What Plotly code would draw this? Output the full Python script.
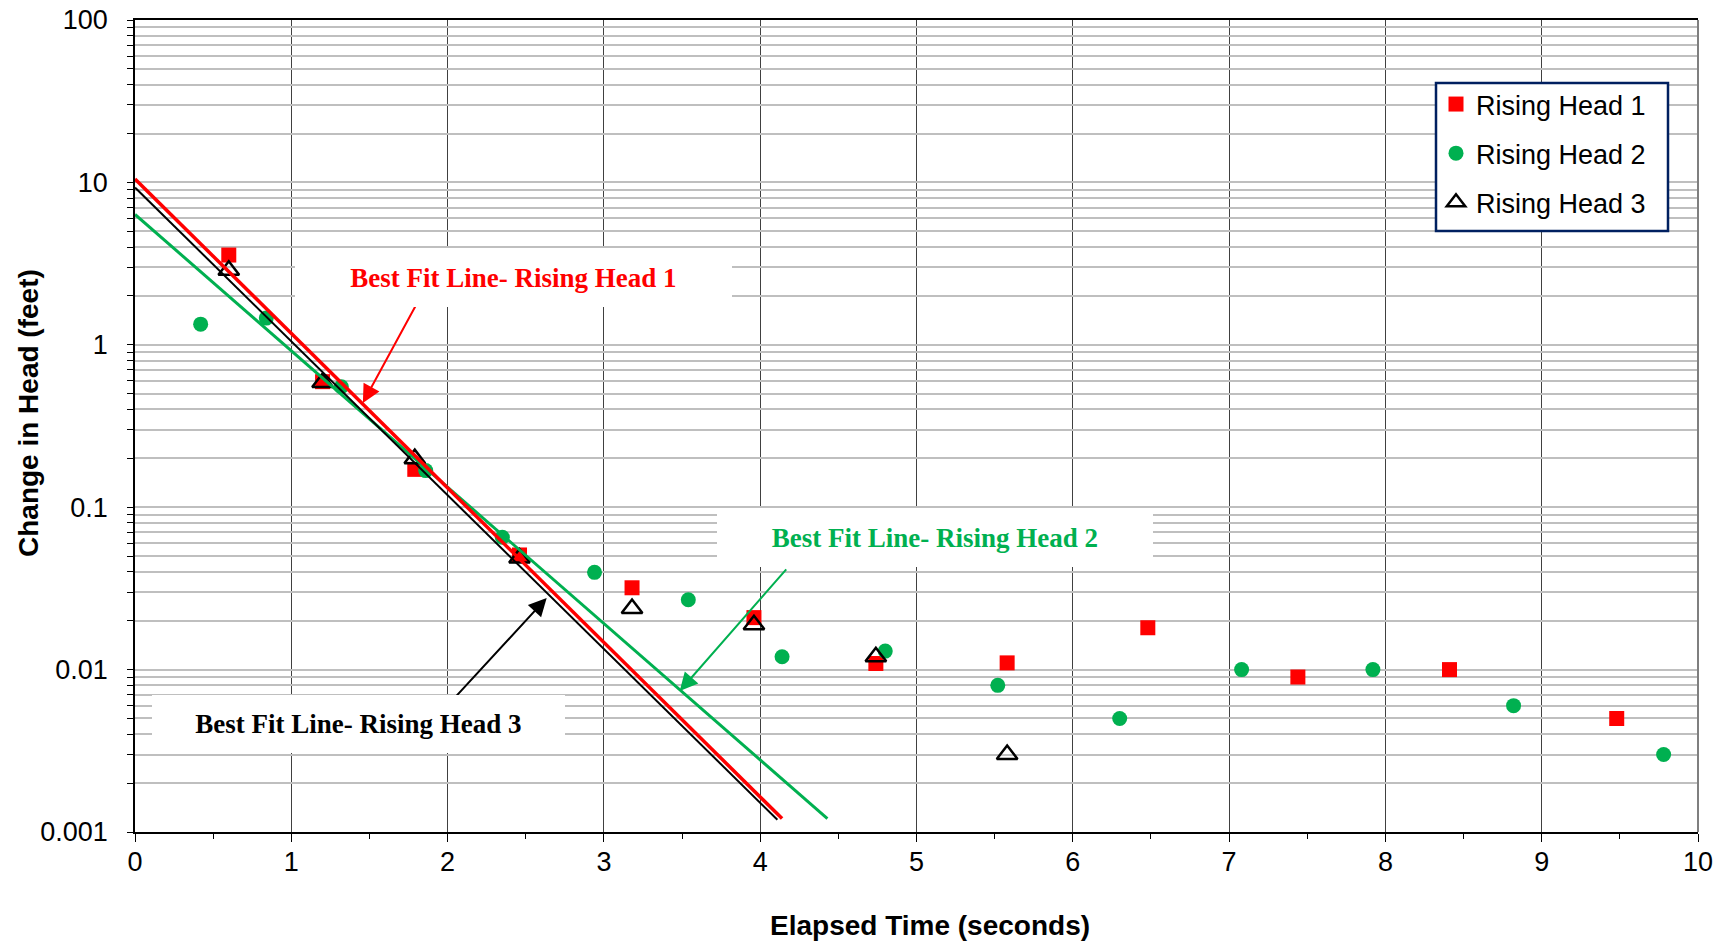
import plotly.graph_objects as go

# ---------------- data ----------------
rh1_t = [0.60, 1.20, 1.79, 2.46, 3.18, 3.96, 4.74, 5.58, 6.48, 7.44, 8.41, 9.48]
rh1_h = [3.57, 0.593, 0.171, 0.0508, 0.0319, 0.0209, 0.0109, 0.0110, 0.0181, 0.0090, 0.0100, 0.0050]

rh2_t = [0.42, 0.84, 1.32, 1.86, 2.35, 2.94, 3.54, 4.14, 4.80, 5.52, 6.30, 7.08, 7.92, 8.82, 9.78]
rh2_h = [1.34, 1.46, 0.552, 0.168, 0.0653, 0.0397, 0.0269, 0.0120, 0.0130, 0.0080, 0.0050, 0.0100, 0.0100, 0.0060, 0.0030]

rh3_t = [0.60, 1.20, 1.79, 2.46, 3.18, 3.96, 4.74, 5.58]
rh3_h = [2.88, 0.585, 0.199, 0.0486, 0.0238, 0.0189, 0.0120, 0.0030]

fit1_t = [0.0, 4.14]
fit1_h = [10.5, 0.00121]
fit2_t = [0.0, 4.43]
fit2_h = [6.35, 0.00121]
fit3_t = [0.0, 4.11]
fit3_h = [9.3, 0.00119]

series_names = ["Rising Head 1", "Rising Head 2", "Rising Head 3"]
fit_labels = ["Best Fit Line- Rising Head 1", "Best Fit Line- Rising Head 2", "Best Fit Line- Rising Head 3"]

y_decades = [0.001, 0.01, 0.1, 1, 10, 100]
y_decade_labels = ["0.001", "0.01", "0.1", "1", "10", "100"]
x_ticks = list(range(0, 11))

# ---------------- styling ----------------
RED = "#FF0000"
GREEN = "#00B050"
BLACK = "#000000"
NAVY = "#002060"
SANS = "Liberation Sans, Arial, sans-serif"
SERIF = "Liberation Serif, Times New Roman, serif"

W, H = 1735, 945
ML, MR, MT, MB = 135, 37, 20, 113
PW, PH = W - ML - MR, H - MT - MB


def px2paper(px, py):
    return (px - ML) / PW, 1 - (py - MT) / PH


# y gridlines at every 1..9 multiple of each decade
y_tickvals, y_ticktext = [], []
for d, lab in zip(y_decades, y_decade_labels):
    if d == y_decades[-1]:
        y_tickvals.append(d)
        y_ticktext.append(lab)
        break
    for m in range(1, 10):
        y_tickvals.append(d * m)
        y_ticktext.append(lab if m == 1 else "")

fig = go.Figure()

fig.add_trace(go.Scatter(
    x=rh1_t, y=rh1_h, mode="markers", name=series_names[0], legendgroup="a",
    marker=dict(symbol="square", size=15, color=RED, line=dict(width=0)),
))
fig.add_trace(go.Scatter(
    x=rh2_t, y=rh2_h, mode="markers", name=series_names[1], legendgroup="b",
    marker=dict(symbol="circle", size=15, color=GREEN, line=dict(width=0)),
))
fig.add_trace(go.Scatter(
    x=rh3_t, y=rh3_h, mode="markers", name=series_names[2], legendgroup="c",
    marker=dict(symbol="triangle-up-open", size=18, color=BLACK, line=dict(width=2.5, color=BLACK)),
))

# best-fit lines (drawn on top of markers)
fig.add_trace(go.Scatter(x=fit2_t, y=fit2_h, mode="lines", showlegend=False,
                         line=dict(color=GREEN, width=3), hoverinfo="skip"))
fig.add_trace(go.Scatter(x=fit1_t, y=fit1_h, mode="lines", showlegend=False,
                         line=dict(color=RED, width=3.5), hoverinfo="skip"))
fig.add_trace(go.Scatter(x=fit3_t, y=fit3_h, mode="lines", showlegend=False,
                         line=dict(color=BLACK, width=2), hoverinfo="skip"))

annotations = []

# arrows (tip x,y ; tail ax,ay in data units, log10 for y)
arrows = [
    (1.458, -0.358, 1.854, 0.344, RED),
    (3.485, -2.132, 4.175, -1.374, GREEN),
    (2.634, -1.559, 1.993, -2.228, BLACK),
]
for x, y, ax, ay, c in arrows:
    annotations.append(dict(
        x=x, y=y, xref="x", yref="y", ax=ax, ay=ay, axref="x", ayref="y",
        text="", showarrow=True, arrowhead=2, arrowsize=1.8, arrowwidth=2,
        arrowcolor=c, standoff=0, startstandoff=0,
    ))

# label boxes (center px, size px)
boxes = [
    (513, 277.5, 437, 59, RED, fit_labels[0]),
    (935, 537.5, 436, 59, GREEN, fit_labels[1]),
    (358.5, 724, 413, 58, BLACK, fit_labels[2]),
]
for cx, cy, bw, bh, c, txt in boxes:
    px_, py_ = px2paper(cx, cy)
    annotations.append(dict(
        x=px_, y=py_, xref="paper", yref="paper", xanchor="center", yanchor="middle",
        text="<b>" + txt + "</b>", showarrow=False, width=bw, height=bh,
        bgcolor="white", borderpad=0, borderwidth=0, align="center", valign="middle",
        font=dict(family=SERIF, size=27, color=c),
    ))

# axis titles
tx, ty = px2paper(930, 925)
annotations.append(dict(x=tx, y=ty, xref="paper", yref="paper", xanchor="center", yanchor="middle",
                        text="<b>Elapsed Time (seconds)</b>", showarrow=False,
                        font=dict(family=SANS, size=28, color="black")))
tx, ty = px2paper(28, 413)
annotations.append(dict(x=tx, y=ty, xref="paper", yref="paper", xanchor="center", yanchor="middle",
                        text="<b>Change in Head (feet)</b>", showarrow=False, textangle=-90,
                        font=dict(family=SANS, size=28, color="black")))

# legend frame (white box with navy border) drawn as a shape beneath the legend
bx0, by0 = px2paper(1436, 83)
bx1, by1 = px2paper(1668, 231)
lx, ly = px2paper(1436, 80)

fig.update_layout(
    width=W, height=H,
    margin=dict(l=ML, r=MR, t=MT, b=MB, pad=0, autoexpand=False),
    paper_bgcolor="white", plot_bgcolor="white",
    font=dict(family=SANS, size=27, color="black"),
    showlegend=True,
    legend=dict(
        x=lx, y=ly, xanchor="left", yanchor="top",
        bgcolor="rgba(0,0,0,0)", borderwidth=0,
        font=dict(family=SANS, size=27, color="black"),
        tracegroupgap=11, itemwidth=30,
    ),
    annotations=annotations,
    shapes=[
        dict(type="line", xref="paper", yref="paper", x0=1, x1=1, y0=0, y1=1,
             line=dict(color="#7f7f7f", width=2)),
        dict(type="rect", xref="paper", yref="paper", x0=bx0, x1=bx1, y0=by1, y1=by0,
             fillcolor="white", line=dict(color=NAVY, width=2.5), layer="above"),
    ],
    xaxis=dict(
        range=[0, 10], tickvals=x_ticks, ticktext=[str(v) for v in x_ticks],
        showgrid=True, gridcolor="#404040", gridwidth=1, automargin=False,
        showline=True, linecolor="black", linewidth=1.5, mirror=True,
        ticks="outside", ticklen=8, tickwidth=1, tickcolor="black", ticklabelstandoff=-3,
        minor=dict(dtick=0.5, tick0=0, ticks="outside", ticklen=5, tickcolor="black", showgrid=False),
        tickfont=dict(family=SANS, size=27), zeroline=False,
    ),
    yaxis=dict(
        type="log", range=[-3, 2], tickvals=y_tickvals, ticktext=y_ticktext,
        showgrid=True, gridcolor="#bfbfbf", gridwidth=2, automargin=False,
        showline=True, linecolor="black", linewidth=1.5, mirror=False,
        ticks="outside", ticklen=6, tickwidth=1, tickcolor="black", ticklabelstandoff=14,
        tickfont=dict(family=SANS, size=27), zeroline=False,
    ),
)

fig.write_html("out.html", config={"displayModeBar": False},
               post_script="document.body.style.margin='0px';")
